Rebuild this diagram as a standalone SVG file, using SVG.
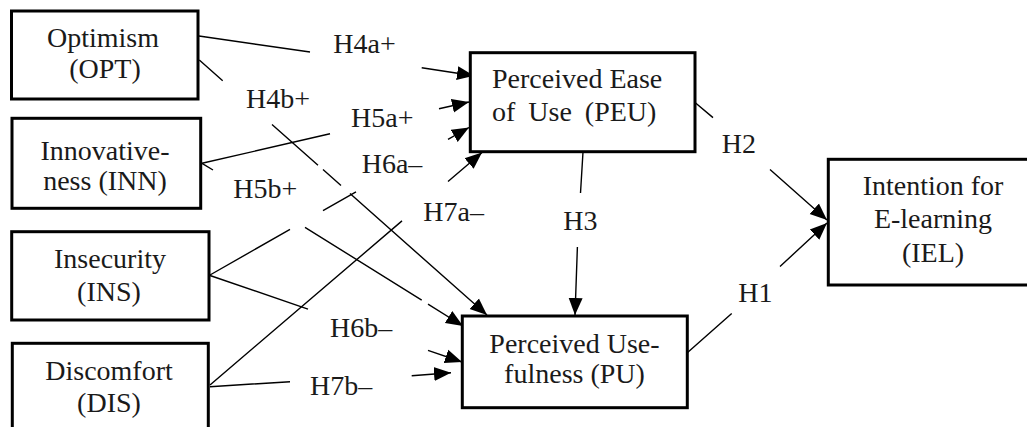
<svg xmlns="http://www.w3.org/2000/svg" width="1027" height="427" viewBox="0 0 1027 427">
<defs>
<style>
.box{fill:#fff;stroke:#000;stroke-width:3}
.t{font-family:Liberation Serif,DejaVu Serif,Tinos,Noto Serif,FreeSerif,Nimbus Roman,Nimbus Roman No9 L,Times New Roman,Times,serif;font-size:28px;fill:#1a1a1a}
.c{text-anchor:middle}
.ln{fill:none;stroke:#000;stroke-width:1.4}
.ar{marker-end:url(#ah)}
</style>
<marker id="ah" markerUnits="userSpaceOnUse" markerWidth="18" markerHeight="16" refX="17" refY="8" orient="auto">
<path d="M0,1 L17,8 L0,15 z" fill="#000"/>
</marker>
</defs>
<rect width="1027" height="427" fill="#fff"/>
<g id="connectors">
<path class="ln ar" d="M199,36 L310,52 M421.7,67.7 L474,75.7"/>
<path class="ln ar" d="M199.3,60 L222.7,80.8 M272,124.4 L318,165.2 M323,169.6 L341,185.6 M350,193.6 L487,315"/>
<path class="ln ar" d="M202,163.3 L330,133.8 M439,108.7 L469,102"/>
<path class="ln ar" d="M210,275 L290,229.4 M323,210.6 L356,191.8 M448,139.4 L469,127.5"/>
<path class="ln ar" d="M202,163.3 L213,170 M305,227.3 L421.7,300.2 M428,304.2 L463,326"/>
<path class="ln ar" d="M210,385 L402,220.9 M448,181.5 L482,152.5"/>
<path class="ln ar" d="M210,275.5 L308,309.1 M428,350.3 L462,362"/>
<path class="ln ar" d="M210,386.7 L290,381.7 M411.7,375.7 L451,372.7"/>
<path class="ln ar" d="M583,152 L580.5,193 M577.4,247 L575,315"/>
<path class="ln ar" d="M695,102.5 L713,117.6 M770,169.5 L827,220"/>
<path class="ln ar" d="M687,353 L731.7,313.5 M780,266.5 L827,223"/>
</g>
<g id="labels">
<text class="t" x="333.3" y="53.3">H4a+</text>
<text class="t" x="246" y="108.3">H4b+</text>
<text class="t" x="351" y="126.5">H5a+</text>
<text class="t" x="233.3" y="197.5">H5b+</text>
<text class="t" x="361.7" y="173.3">H6a–</text>
<text class="t" x="423.3" y="220.7">H7a–</text>
<text class="t" x="563.3" y="230">H3</text>
<text class="t" x="330" y="336.7">H6b–</text>
<text class="t" x="310" y="395">H7b–</text>
<text class="t" x="721.7" y="152.7">H2</text>
<text class="t" x="738.3" y="301.7">H1</text>
</g>
<g id="OPT">
<rect class="box" x="11.5" y="11" width="186.5" height="88"/>
<text class="t c" x="103" y="46.7">Optimism</text>
<text class="t c" x="105" y="78">(OPT)</text>
</g>
<g id="INN">
<rect class="box" x="12" y="118.3" width="188.7" height="90"/>
<text class="t c" x="105" y="160">Innovative-</text>
<text class="t c" x="105" y="190">ness (INN)</text>
</g>
<g id="INS">
<rect class="box" x="11.7" y="231.7" width="197.3" height="88.3"/>
<text class="t c" x="110" y="268">Insecurity</text>
<text class="t c" x="109" y="301">(INS)</text>
</g>
<g id="DIS">
<rect class="box" x="12.3" y="343.3" width="196" height="100"/>
<text class="t c" x="109" y="380">Discomfort</text>
<text class="t c" x="109" y="411.7">(DIS)</text>
</g>
<g id="PEU">
<rect class="box" x="470.3" y="52.7" width="224.7" height="99"/>
<text class="t" x="492" y="88.3">Perceived Ease</text>
<text class="t" x="492" y="120.7" word-spacing="6">of Use (PEU)</text>
</g>
<g id="PU">
<rect class="box" x="462.3" y="316" width="225" height="91.7"/>
<text class="t c" x="574.5" y="352.5">Perceived Use-</text>
<text class="t c" x="574.5" y="383">fulness (PU)</text>
</g>
<g id="IEL">
<rect class="box" x="828.3" y="159.3" width="220" height="125.7"/>
<text class="t c" x="933" y="195">Intention for</text>
<text class="t c" x="933" y="228">E-learning</text>
<text class="t c" x="933" y="261.5">(IEL)</text>
</g>
</svg>
